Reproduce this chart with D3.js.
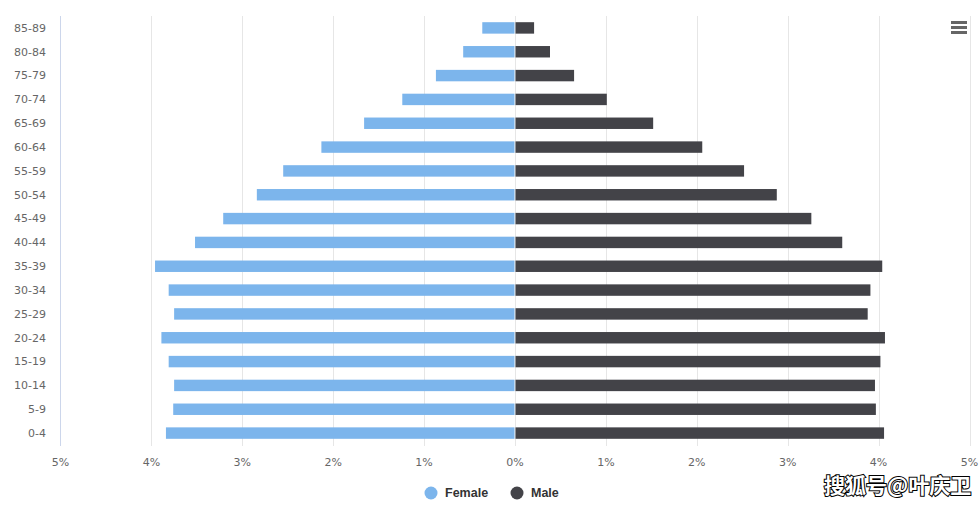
<!DOCTYPE html>
<html><head><meta charset="utf-8">
<script src="https://cdn.jsdelivr.net/npm/d3@7"></script>
<style>body{margin:0;background:#fff}svg{display:block}</style>
</head><body><svg id="c" width="980" height="505"></svg>
<script>
const categories = ["0-4","5-9","10-14","15-19","20-24","25-29","30-34","35-39","40-44","45-49","50-54","55-59","60-64","65-69","70-74","75-79","80-84","85-89"];
const female = [3.84,3.76,3.75,3.81,3.89,3.75,3.81,3.96,3.52,3.21,2.84,2.55,2.13,1.66,1.24,0.87,0.57,0.36];
const male = [4.06,3.97,3.96,4.02,4.07,3.88,3.91,4.04,3.60,3.26,2.88,2.52,2.06,1.52,1.01,0.65,0.385,0.21];
const tickValues = [-5,-4,-3,-2,-1,0,1,2,3,4,5];
const seriesNames = ["Female","Male"];
const colors = ["#7cb5ec","#434348"];

const svg = d3.select("#c");
const font = "'DejaVu Sans', Verdana, sans-serif";
const x = d3.scaleLinear().domain([-5,5]).range([60.5,969.5]);
const y = d3.scaleBand().domain(categories.slice().reverse()).range([16,445]).paddingInner(0.52).paddingOuter(0.26);

// gridlines
svg.append("g").selectAll("line").data(tickValues).join("line")
  .attr("x1",d=>Math.round(x(d))+0.5).attr("x2",d=>Math.round(x(d))+0.5)
  .attr("y1",16).attr("y2",446)
  .attr("stroke",(d,i)=>i===0?"none":"#e6e6e6").attr("stroke-width",1);
// left axis line
svg.append("line").attr("x1",60.5).attr("x2",60.5).attr("y1",16).attr("y2",446).attr("stroke","#ccd6eb");

// bars
svg.append("g").selectAll("rect").data(female).join("rect")
  .attr("x",d=>x(-d)).attr("width",d=>x(0)-x(-d)-0.5)
  .attr("y",(d,i)=>y(categories[i])).attr("height",y.bandwidth())
  .attr("fill",colors[0]);
svg.append("g").selectAll("rect").data(male).join("rect")
  .attr("x",x(0)+0.5).attr("width",d=>x(d)-x(0)-0.5)
  .attr("y",(d,i)=>y(categories[i])).attr("height",y.bandwidth())
  .attr("fill",colors[1]);

// y labels
svg.append("g").selectAll("text").data(categories).join("text")
  .attr("x",46).attr("y",d=>y(d)+y.bandwidth()/2).attr("dy","0.35em")
  .attr("text-anchor","end").attr("font-family",font).attr("font-size",11).attr("fill","#666")
  .text(d=>d);

// x labels
svg.append("g").selectAll("text").data(tickValues).join("text")
  .attr("x",d=>x(d)).attr("y",462).attr("dy","0.35em")
  .attr("text-anchor","middle").attr("font-family",font).attr("font-size",11).attr("fill","#666")
  .text(d=>Math.abs(d)+"%");

// legend
const legend = svg.append("g");
const lx = [431, 517];
seriesNames.forEach((n,i)=>{
  legend.append("circle").attr("cx",lx[i]).attr("cy",493).attr("r",6.5).attr("fill",colors[i]);
  legend.append("text").attr("x",lx[i]+14).attr("y",493).attr("dy","0.35em")
    .attr("font-family","'Liberation Sans', Arial, sans-serif").attr("font-size",12.5).attr("font-weight","bold").attr("fill","#333").text(n);
});

// menu icon
[22.5,27.5,32.5].forEach(yy=>{
  svg.append("line").attr("x1",951).attr("x2",967).attr("y1",yy).attr("y2",yy)
    .attr("stroke","#666").attr("stroke-width",3);
});

// watermark
svg.append("text").attr("x",824).attr("y",493)
  .attr("font-family","'Noto Sans CJK SC', sans-serif").attr("font-size",21).attr("font-weight","bold")
  .attr("fill","#fff").attr("stroke","#000").attr("stroke-width",2).attr("paint-order","stroke")
  .text("搜狐号@叶庆卫");
</script></body></html>
